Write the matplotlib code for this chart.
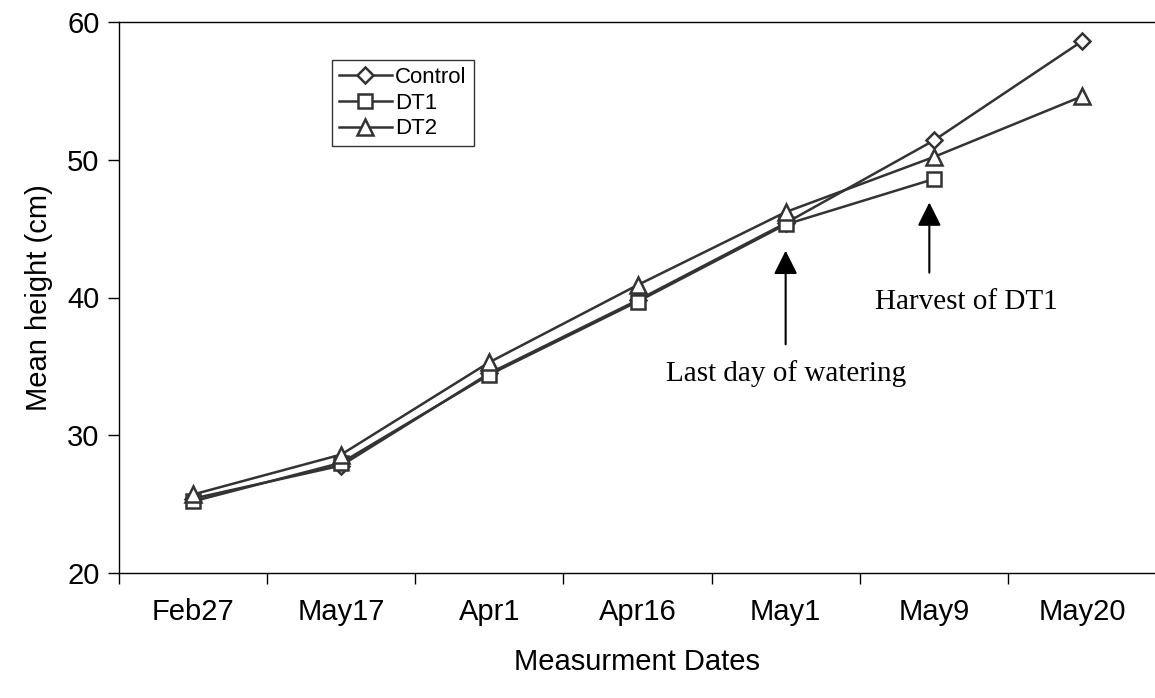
import matplotlib
matplotlib.use("Agg")
import matplotlib.pyplot as plt

dates = ["Feb27", "May17", "Apr1", "Apr16", "May1", "May9", "May20"]
control = [25.4, 27.8, 34.5, 39.8, 45.4, 51.4, 58.6]
dt1 = [25.2, 28.0, 34.4, 39.7, 45.3, 48.6]
dt2 = [25.7, 28.6, 35.3, 40.9, 46.2, 50.2, 54.6]
yticks = [20, 30, 40, 50, 60]

plt.rcParams['font.family'] = ['Liberation Sans', 'DejaVu Sans']
fig = plt.figure(figsize=(11.55, 6.98), dpi=100)
ax = fig.add_axes([119/1155, 1-573/698, 1037/1155, 551/698])

col = '#333333'
x = list(range(len(dates)))
ax.plot(x, control, color=col, lw=1.8, marker='D', ms=8, mfc='white', mec=col, mew=1.8, label='Control')
ax.plot(x[:len(dt1)], dt1, color=col, lw=1.8, marker='s', ms=10, mfc='white', mec=col, mew=1.8, label='DT1')
ax.plot(x, dt2, color=col, lw=1.8, marker='^', ms=11, mfc='white', mec=col, mew=1.8, label='DT2')

ax.set_xlim(-0.5, len(dates) - 0.5)
ax.set_ylim(20, 60)
ax.set_yticks(yticks)
ax.set_xticks([i - 0.5 for i in range(len(dates) + 1)])
ax.set_xticklabels([])
ax.set_xticks(x, minor=True)
ax.set_xticklabels(dates, minor=True)
ax.tick_params(axis='x', which='minor', length=0, pad=18, labelsize=21)
ax.tick_params(axis='x', which='major', length=8, width=1, direction='out')
ax.tick_params(axis='y', length=8, width=1, direction='out', labelsize=21, pad=6)

for s in ['left', 'bottom', 'top', 'right']:
    ax.spines[s].set_color('black')
    ax.spines[s].set_linewidth(1)

ax.set_ylabel('Mean height (cm)', fontsize=21, labelpad=10)
ax.set_xlabel('Measurment Dates', fontsize=21, labelpad=16)

leg = ax.legend(loc='upper left', bbox_to_anchor=((332-119)/1037, (573-60)/551),
                fontsize=16, frameon=True, fancybox=False, borderpad=0.3,
                handlelength=2.4, handletextpad=0.15, labelspacing=0.22, borderaxespad=0)
leg.get_frame().set_edgecolor('black')
leg.get_frame().set_linewidth(1)

arrow = dict(arrowstyle='-|>,head_length=0.8,head_width=0.4', color='black', lw=1.5,
             mutation_scale=18, shrinkA=0, shrinkB=0)
ax.annotate('', xy=(4.0, 43.4), xytext=(4.0, 36.6), arrowprops=arrow)
ax.text(4.0, 34.5, 'Last day of watering', family=['Liberation Serif'],
        fontsize=21, ha='center', va='center')
ax.annotate('', xy=(4.97, 46.9), xytext=(4.97, 41.8), arrowprops=arrow)
ax.text(5.22, 39.7, 'Harvest of DT1', family=['Liberation Serif'],
        fontsize=21, ha='center', va='center')

fig.savefig('out.png', dpi=100)
